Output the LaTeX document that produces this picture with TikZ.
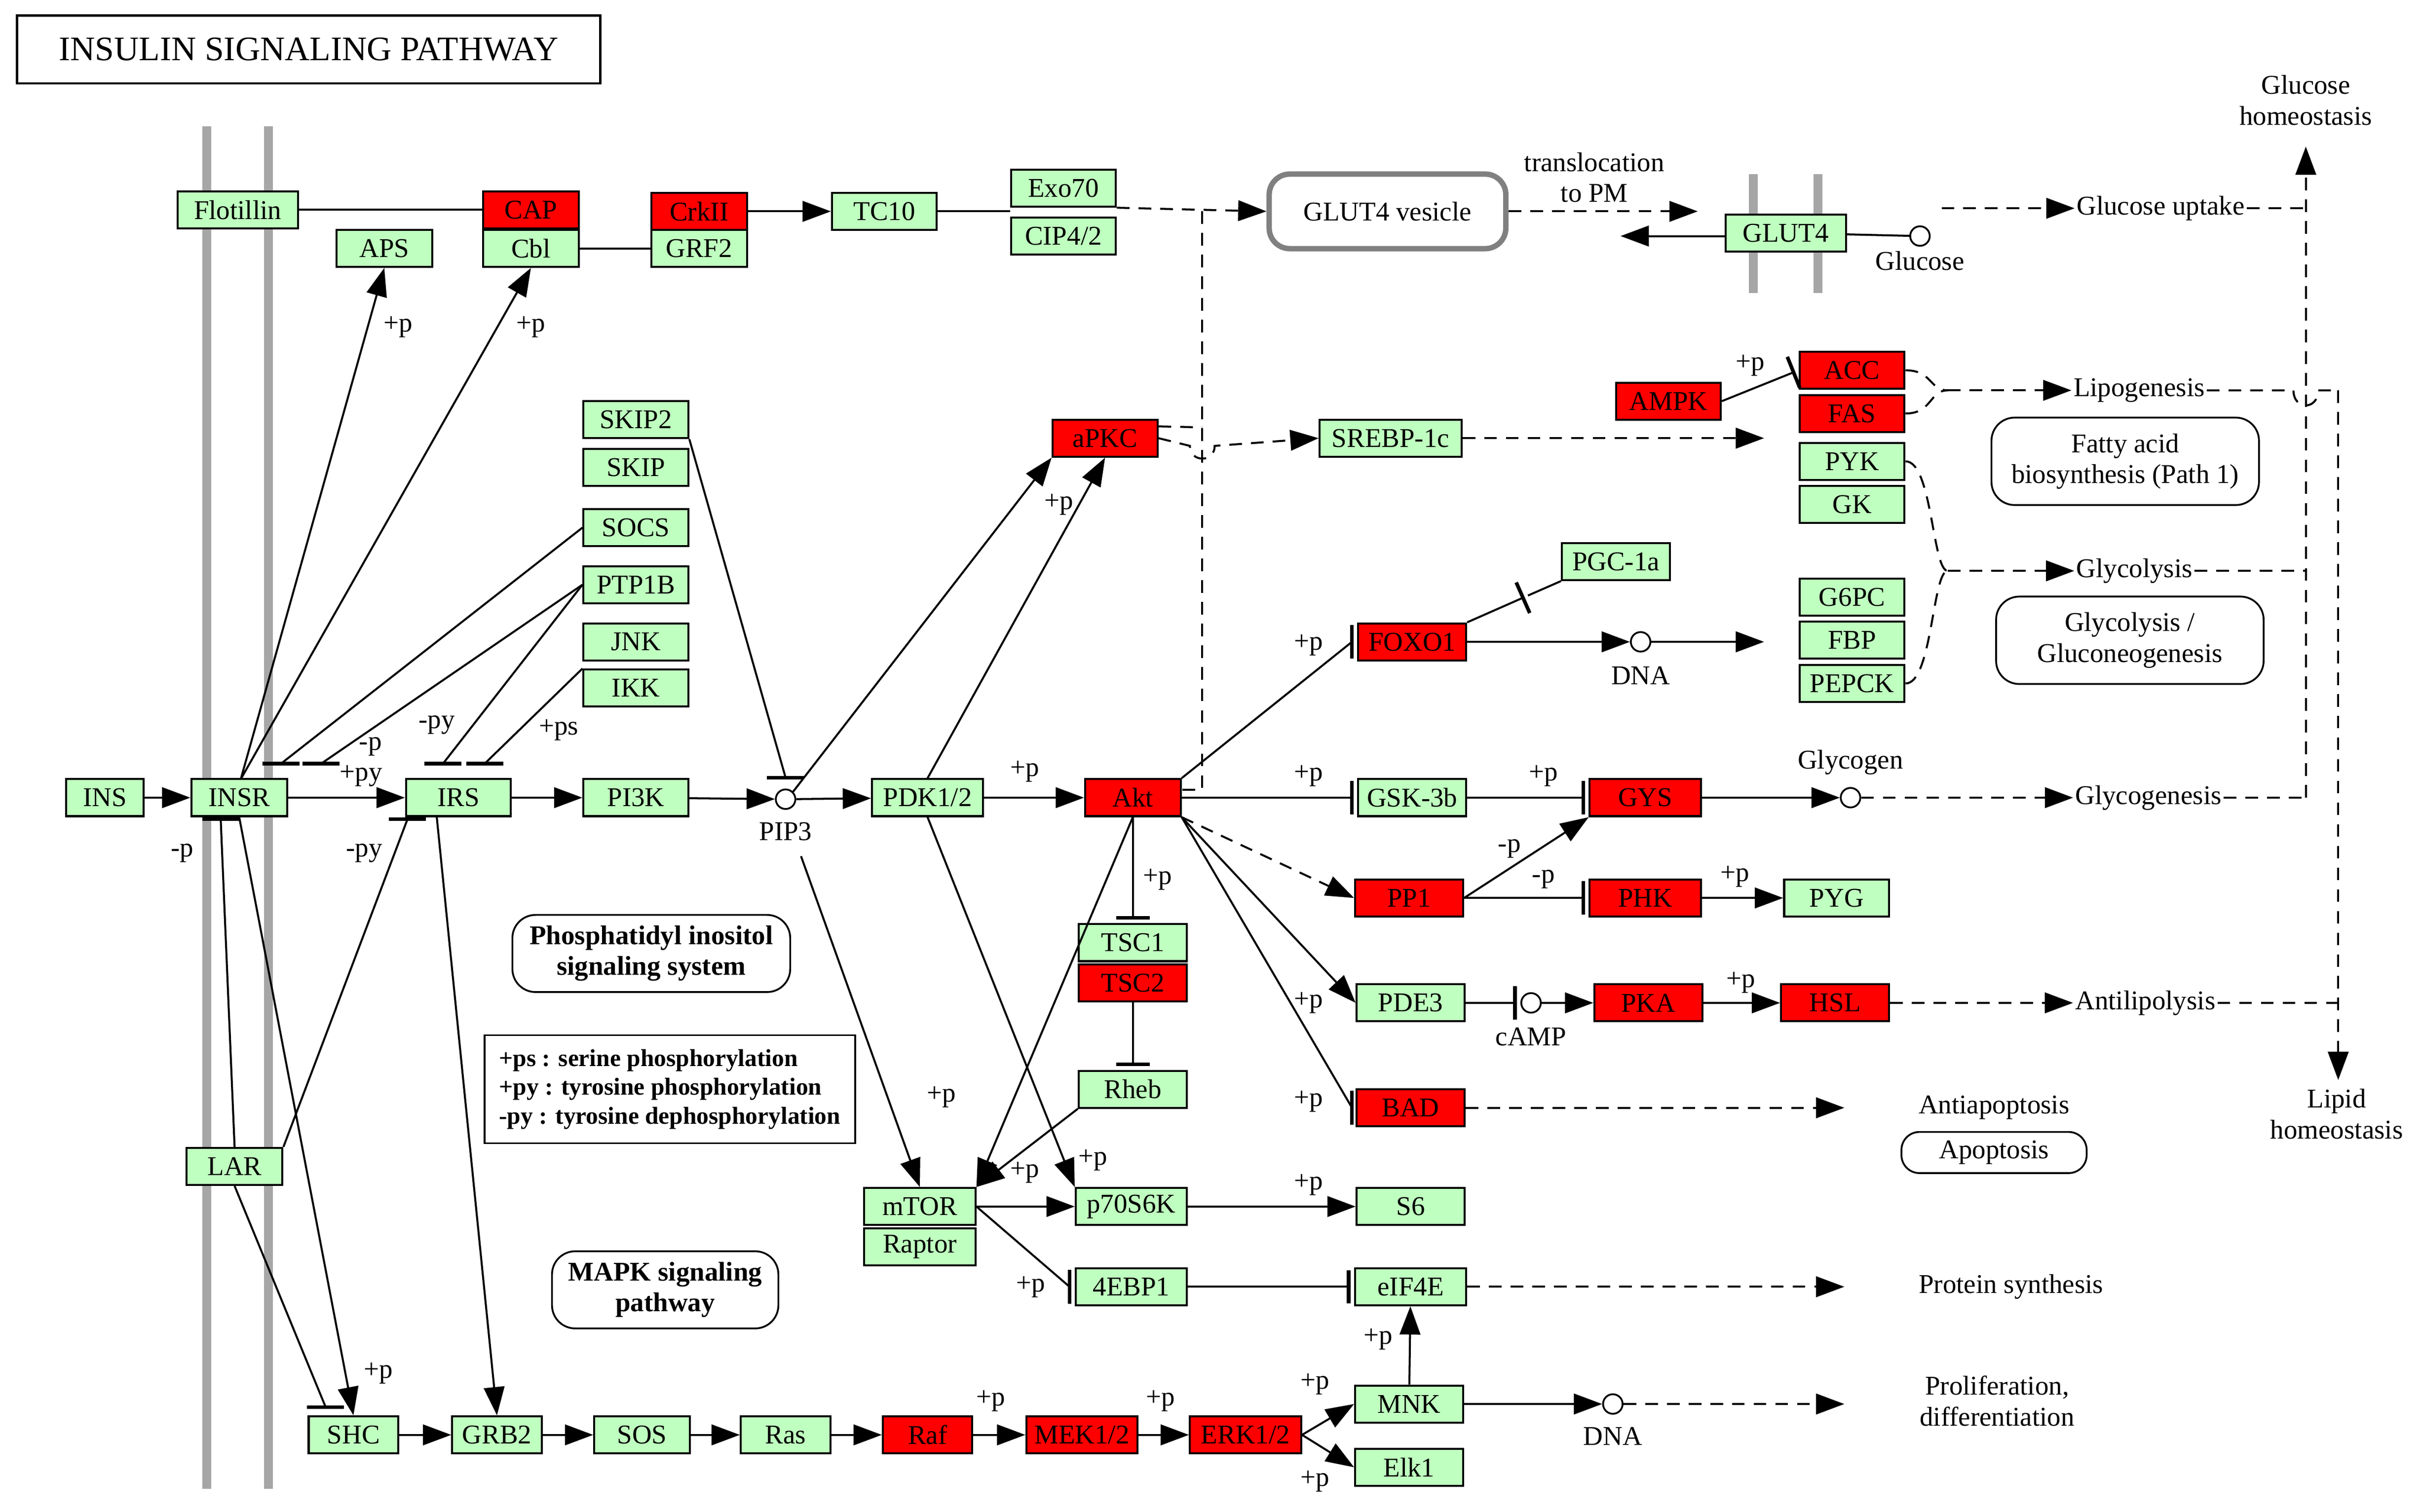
\documentclass[tikz,border=0pt]{standalone}
\usepackage{fontspec}
\setmainfont{Liberation Serif}
\usetikzlibrary{arrows.meta,shapes.misc}
\definecolor{kg}{HTML}{BFFFBF}
\definecolor{kr}{HTML}{FF0000}
\newcommand\hbr[1]{\draw[line width=2pt] (#1) ++(-12,0) -- ++(24,0);}
\newcommand\vbr[1]{\draw[line width=2pt] (#1) ++(0,-11) -- ++(0,22);}
\begin{document}
\begin{tikzpicture}[x=0.03cm,y=-0.03cm,
 bx/.style={draw,line width=1.1pt,minimum height=0.72cm,minimum width=2.1cm,inner sep=0pt,font=\fontsize{15}{17}\selectfont},
 g/.style={bx,fill=kg},
 r/.style={bx,fill=kr},
 txt/.style={font=\fontsize{15}{17}\selectfont,align=center,inner sep=1pt},
 lab/.style={font=\fontsize{15}{17}\selectfont,inner sep=0pt},
 rb/.style={draw,rounded corners=0.45cm,line width=1pt,align=center,font=\fontsize{15}{17}\selectfont,minimum height=1.5cm},
 cir/.style={circle,draw,line width=1pt,minimum size=0.38cm,inner sep=0pt},
 ln/.style={line width=1.1pt},
 arr/.style={ln,-{Triangle[length=0.55cm,width=0.4cm]}},
 inh/.style={ln,-{Bar[width=0.65cm,line width=2pt]},shorten >=2pt},
 dsh/.style={dash pattern=on 7pt off 5pt},
 mem/.style={line width=5pt,gray!70}]
\useasboundingbox (0,0) rectangle (1568,980);
% membranes
\draw[mem] (134,82) -- (134,965);
\draw[mem] (174,82) -- (174,965);
\draw[mem] (1136,113) -- (1136,190);
\draw[mem] (1178,113) -- (1178,190);
% title
\node[draw,line width=1.3pt,minimum width=11.34cm,minimum height=1.32cm,font=\fontsize{19}{21}\selectfont] (title) at (200,32) {INSULIN SIGNALING PATHWAY};
% nodes
\node[g,minimum width=2.34cm] (flot) at (154,136) {Flotillin};
\node[r,minimum width=1.86cm] (cap) at (344,136) {CAP};
\node[g,minimum width=1.86cm] (cbl) at (344,161) {Cbl};
\node[g,minimum width=1.86cm] (aps) at (249,161) {APS};
\node[r,minimum width=1.86cm] (crk) at (453,137) {CrkII};
\node[g,minimum width=1.86cm] (grf) at (453,161) {GRF2};
\node[g,minimum width=2.04cm] (tc) at (573,137) {TC10};
\node[g,minimum width=2.04cm] (exo) at (689,122) {Exo70};
\node[g,minimum width=2.04cm] (cip) at (689,153) {CIP4/2};
\node[draw=gray,line width=3pt,rounded corners=0.4cm,minimum width=4.6cm,minimum height=1.45cm,font=\fontsize{15}{17}\selectfont] (ves) at (899,137) {GLUT4 vesicle};
\node[g,minimum width=2.34cm] (glut) at (1157,151) {GLUT4};
\node[g,minimum width=2.04cm] (skip2) at (412,272) {SKIP2};
\node[g,minimum width=2.04cm] (skip) at (412,303) {SKIP};
\node[g,minimum width=2.04cm] (socs) at (412,342) {SOCS};
\node[g,minimum width=2.04cm] (ptp) at (412,379) {PTP1B};
\node[g,minimum width=2.04cm] (jnk) at (412,416) {JNK};
\node[g,minimum width=2.04cm] (ikk) at (412,446) {IKK};
\node[g,minimum width=1.5cm] (ins) at (68,517) {INS};
\node[g,minimum width=1.86cm] (insr) at (155,517) {INSR};
\node[g,minimum width=2.04cm] (irs) at (297,517) {IRS};
\node[g,minimum width=2.04cm] (pi3k) at (412,517) {PI3K};
\node[g,minimum width=2.16cm] (pdk) at (601,517) {PDK1/2};
\node[r,minimum width=1.86cm] (akt) at (734,517) {Akt};
\node[r,minimum width=2.04cm] (apkc) at (716,284) {aPKC};
\node[g,minimum width=2.76cm] (srebp) at (901,284) {SREBP-1c};
\node[r,minimum width=2.04cm] (ampk) at (1081,260) {AMPK};
\node[r,minimum width=2.04cm] (acc) at (1200,240) {ACC};
\node[r,minimum width=2.04cm] (fas) at (1200,268) {FAS};
\node[g,minimum width=2.04cm] (pyk) at (1200,299) {PYK};
\node[g,minimum width=2.04cm] (gk) at (1200,327) {GK};
\node[g,minimum width=2.1cm] (pgc) at (1047,364) {PGC-1a};
\node[r,minimum width=2.1cm] (foxo) at (915,416) {FOXO1};
\node[g,minimum width=2.04cm] (g6pc) at (1200,387) {G6PC};
\node[g,minimum width=2.04cm] (fbp) at (1200,415) {FBP};
\node[g,minimum width=2.04cm] (pepck) at (1200,443) {PEPCK};
\node[g,minimum width=2.1cm] (gsk) at (915,517) {GSK-3b};
\node[r,minimum width=2.16cm] (gys) at (1066,517) {GYS};
\node[r,minimum width=2.1cm] (pp1) at (913,582) {PP1};
\node[r,minimum width=2.16cm] (phk) at (1066,582) {PHK};
\node[g,minimum width=2.04cm] (pyg) at (1190,582) {PYG};
\node[g,minimum width=2.1cm] (pde) at (914,650) {PDE3};
\node[r,minimum width=2.1cm] (pka) at (1068,650) {PKA};
\node[r,minimum width=2.1cm] (hsl) at (1189,650) {HSL};
\node[r,minimum width=2.1cm] (bad) at (914,718) {BAD};
\node[g,minimum width=2.1cm] (tsc1) at (734,611) {TSC1};
\node[r,minimum width=2.1cm] (tsc2) at (734,637) {TSC2};
\node[g,minimum width=2.1cm] (rheb) at (734,706) {Rheb};
\node[g,minimum width=2.16cm] (mtor) at (596,782) {mTOR};
\node[g,minimum width=2.16cm] (raptor) at (596,808) {Raptor};
\node[g,minimum width=2.16cm] (p70) at (733,782) {p70S6K};
\node[g,minimum width=2.1cm] (s6) at (914,782) {S6};
\node[g,minimum width=2.16cm] (ebp) at (733,834) {4EBP1};
\node[g,minimum width=2.16cm] (eif) at (914,834) {eIF4E};
\node[g,minimum width=2.1cm] (mnk) at (913,910) {MNK};
\node[g,minimum width=2.1cm] (elk) at (913,951) {Elk1};
\node[g,minimum width=1.86cm] (lar) at (152,756) {LAR};
\node[g,minimum width=1.74cm] (shc) at (229,930) {SHC};
\node[g,minimum width=1.74cm] (grb) at (322,930) {GRB2};
\node[g,minimum width=1.86cm] (sos) at (416,930) {SOS};
\node[g,minimum width=1.74cm] (ras) at (509,930) {Ras};
\node[r,minimum width=1.74cm] (raf) at (601,930) {Raf};
\node[r,minimum width=2.16cm] (mek) at (701,930) {MEK1/2};
\node[r,minimum width=2.16cm] (erk) at (807,930) {ERK1/2};
% circles
\node[cir] (pip3) at (509,518) {};
\node[cir] (glc) at (1244,153) {};
\node[cir] (dna1) at (1063,416) {};
\node[cir] (gly) at (1199,517) {};
\node[cir] (camp) at (992,650) {};
\node[cir] (dna2) at (1045,910) {};
% rounded info boxes
\node[rb,font=\bfseries\fontsize{15}{17}\selectfont,minimum width=5.4cm] (pis) at (422,618) {Phosphatidyl inositol\\signaling system};
\node[rb,font=\bfseries\fontsize{15}{17}\selectfont,minimum width=4.4cm] (mapk) at (431,836) {MAPK signaling\\pathway};
\node[rb,minimum width=5.2cm,minimum height=1.7cm] (fat) at (1377,299) {Fatty acid\\biosynthesis (Path 1)};
\node[rb,minimum width=5.2cm,minimum height=1.7cm] (glyc) at (1380,415) {Glycolysis /\\Gluconeogenesis};
\node[rb,minimum width=3.6cm,minimum height=0.8cm,rounded corners=0.35cm] (apop) at (1292,747) {Apoptosis};
\node[draw,line width=1pt,align=left,font=\bfseries\fontsize{13.5}{16}\selectfont,minimum width=7.2cm,minimum height=2.1cm] (leg) at (434,706) {+ps : serine phosphorylation\\+py : tyrosine phosphorylation\\-py : tyrosine dephosphorylation};
% texts
\node[txt] (tpm) at (1033,115) {translocation\\to PM};
\node[txt] (gup) at (1400,135) {Glucose uptake};
\node[txt] (ghom) at (1494,65) {Glucose\\homeostasis};
\node[txt] (lipo) at (1386,253) {Lipogenesis};
\node[txt] (glyl) at (1383,370) {Glycolysis};
\node[txt] (glyg) at (1392,517) {Glycogenesis};
\node[txt] (glyct) at (1199,494) {Glycogen};
\node[txt] (antil) at (1390,650) {Antilipolysis};
\node[txt] (lhom) at (1514,722) {Lipid\\homeostasis};
\node[txt] (antia) at (1292,718) {Antiapoptosis};
\node[txt] (prot) at (1303,834) {Protein synthesis};
\node[txt] (prol) at (1294,908) {Proliferation,\\differentiation};
\node[txt] at (1063,438) {DNA};
\node[txt] at (1045,931) {DNA};
\node[txt] at (1244,169) {Glucose};
\node[txt] at (992,672) {cAMP};
\node[txt] at (509,539) {PIP3};
% labels
\foreach \x/\y/\t in {258/212/+p,344/212/+p,240/484/-p,234/503/+py,283/470/-py,362/473/+ps,118/553/-p,236/553/-py,245/890/+p,664/500/+p,686/327/+p,848/418/+p,848/503/+p,1000/503/+p,1134/237/+p,978/550/-p,1000/570/-p,1124/568/+p,848/650/+p,1128/637/+p,848/714/+p,750/570/+p,610/711/+p,708/752/+p,664/760/+p,848/768/+p,668/834/+p,893/868/+p,642/908/+p,752/908/+p,852/897/+p,852/960/+p}
  \node[lab] at (\x,\y) {\t};
% coordinates
\coordinate (insrT) at (156,505);
\coordinate (b1) at (182,495);
\coordinate (b2) at (208,495);
\coordinate (b3) at (287,495);
\coordinate (b4) at (314,495);
\coordinate (b5) at (143,531);
\coordinate (b6) at (264,531);
\coordinate (sB) at (509,504);
\coordinate (cB) at (211,912);
\coordinate (fB) at (876,416);
\coordinate (bB) at (876,718);
\coordinate (eB) at (693,834);
\coordinate (vtop) at (779,137);
\coordinate (vbot) at (779,512);
\coordinate (hop1) at (771,289);
\coordinate (hop2) at (787,289);
\coordinate (tpmE) at (1100,137);
\coordinate (gArr) at (1050,153);
\coordinate (lipE) at (1143,284);
\coordinate (dnaE) at (1143,416);
\coordinate (pgcB) at (990,386);
\coordinate (brL) at (1262,253);
\coordinate (brG) at (1262,370);
\coordinate (vx) at (1494,517);
\coordinate (vxt) at (1494,95);
\coordinate (lx) at (1515,253);
\coordinate (lxb) at (1515,700);
\coordinate (badE) at (1195,718);
\coordinate (protE) at (1195,834);
\coordinate (prolE) at (1195,910);
% top edges
\draw[ln] (flot) -- (cap);
\draw[ln] (cbl) -- (grf);
\draw[arr] (crk) -- (tc);
\draw[ln] (tc) -- (tc -| exo.west);
\draw[arr,dsh] (exo.south east) -- (ves.west);
\draw[dsh,ln] (vtop) -- (vbot) -- (vbot -| akt.east);
\draw[dsh,ln] (apkc.north east) ++(0,5) -- (779,277);
\draw[arr,dsh] (ves) -- (tpmE);
\draw[arr] (glut.west |- gArr) -- (gArr);
\draw[ln] (glut) -- (glc);
\draw[arr,dsh] (1258,135) -- (gup.west);
\draw[arr] (insrT) -- (aps.south);
\draw[arr] (insrT) -- (cbl.south);
% inhibitors with flat bars
\draw[ln] (socs.west) -- (b1); \hbr{b1}
\draw[ln] (ptp.west) -- (b2); \hbr{b2}
\draw[ln] (ptp.west) -- (b3); \hbr{b3}
\draw[ln] (ikk.north west) -- (b4); \hbr{b4}
\draw[ln] (lar.north) -- (b5); \hbr{b5}
\draw[ln] (lar.north east) -- (b6); \hbr{b6}
\draw[ln] (skip2.south east) -- (sB); \hbr{sB}
\draw[ln] (lar.south) -- (cB); \hbr{cB}
% main chain
\draw[arr] (ins) -- (insr);
\draw[arr] (insr) -- (irs);
\draw[arr] (irs) -- (pi3k);
\draw[arr] (pi3k) -- (pip3);
\draw[arr] (pip3) -- (pdk);
\draw[arr] (pdk) -- (akt);
\draw[arr] (pip3.north east) -- (apkc.south west);
\draw[arr] (pdk.north) -- (apkc.south);
\draw[arr,dsh] (apkc.east) -- (hop1) .. controls (771,300) and (787,300) .. (hop2) -- (srebp.west);
\draw[arr,dsh] (srebp) -- (lipE);
\draw[inh] (ampk.east) -- (acc.west);
% akt targets
\draw[ln] (akt.north east) -- (fB); \vbr{fB}
\draw[arr] (foxo) -- (dna1);
\draw[arr] (dna1) -- (dnaE);
\draw[inh] (foxo.north east) -- (pgcB);
\draw[ln] (pgcB) -- (pgc.south west);
\draw[inh] (akt) -- (gsk);
\draw[inh] (gsk) -- (gys);
\draw[arr] (gys) -- (gly);
\draw[arr,dsh] (gly) -- (glyg.west);
\draw[arr,dsh] (akt.south east) -- (pp1.west);
\draw[arr] (pp1.east) -- (gys.south west);
\draw[inh] (pp1) -- (phk);
\draw[arr] (phk) -- (pyg);
\draw[arr] (akt.south east) -- (pde.west);
\draw[inh] (pde) -- (camp);
\draw[arr] (camp) -- (pka);
\draw[arr] (pka) -- (hsl);
\draw[arr,dsh] (hsl) -- (antil.west);
\draw[ln] (akt.south east) -- (bB); \vbr{bB}
\draw[arr,dsh] (bad) -- (badE);
\draw[inh] (akt) -- (tsc1);
\draw[inh] (tsc2) -- (rheb);
\draw[arr] (rheb.south west) -- (mtor.north east);
\draw[arr] (akt.south) -- (mtor.north east);
\draw[arr] (pip3.south) ++(10,30) -- (mtor.north);
\draw[arr] (pdk.south) -- (p70.north west);
\draw[arr] (mtor) -- (p70);
\draw[ln] (mtor.east) -- (eB); \vbr{eB}
\draw[arr] (p70) -- (s6);
\draw[inh] (ebp) -- (eif);
\draw[arr,dsh] (eif) -- (protE);
\draw[arr] (mnk) -- (eif);
% brace dashed
\draw[ln,dsh] (acc.east) .. controls (1252,240) and (1250,253) .. (brL);
\draw[ln,dsh] (fas.east) .. controls (1252,268) and (1250,253) .. (brL);
\draw[arr,dsh] (brL) -- (lipo.west);
\draw[ln,dsh] (pyk.east) .. controls (1252,299) and (1252,370) .. (brG);
\draw[ln,dsh] (pepck.east) .. controls (1252,443) and (1252,370) .. (brG);
\draw[arr,dsh] (brG) -- (glyl.west);
% right side
\draw[ln,dsh] (glyl.east) -- (1494,370);
\draw[ln,dsh] (glyg.east) -- (vx);
\draw[ln,dsh] (gup.east) -- (1494,135);
\draw[arr,dsh] (vx) -- (vxt);
\draw[ln,dsh] (lipo.east) -- (1486,253) .. controls (1486,266) and (1502,266) .. (1502,253) -- (lx);
\draw[arr,dsh] (lx) -- (lxb);
\draw[ln,dsh] (antil.east) -- (1515,650);
% lower left
\draw[arr] (insr.south) -- (shc.north);
\draw[arr] (irs.south) ++(-14,0) -- (grb.north);
\draw[arr] (shc) -- (grb);
\draw[arr] (grb) -- (sos);
\draw[arr] (sos) -- (ras);
\draw[arr] (ras) -- (raf);
\draw[arr] (raf) -- (mek);
\draw[arr] (mek) -- (erk);
\draw[arr] (erk.east) -- (mnk.west);
\draw[arr] (erk.east) -- (elk.west);
\draw[arr] (mnk) -- (dna2);
\draw[arr,dsh] (dna2) -- (prolE);
\end{tikzpicture}
\end{document}
